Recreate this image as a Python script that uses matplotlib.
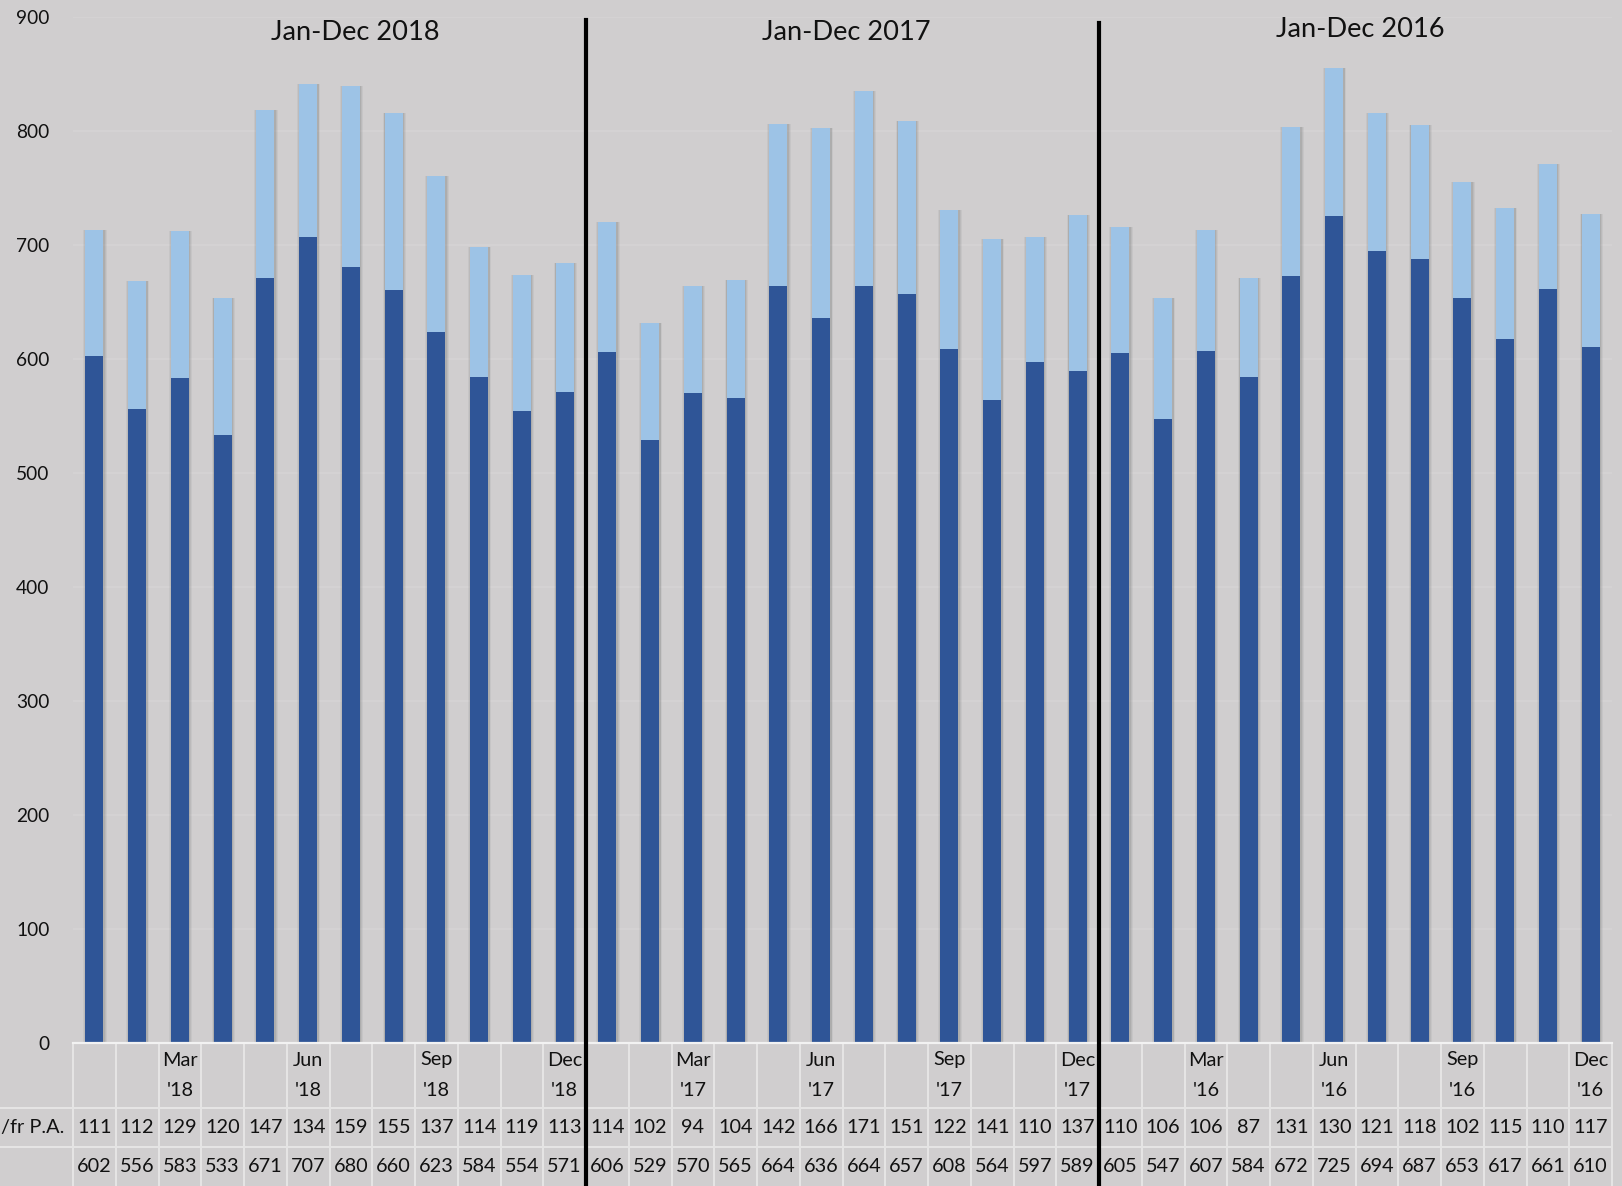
import matplotlib
matplotlib.use('Agg')
import matplotlib.pyplot as plt
from matplotlib.transforms import blended_transform_factory
from matplotlib.lines import Line2D

plt.rcParams['font.family'] = ['Lato', 'DejaVu Sans']

# ---------------- data ----------------
month_labels = ['', '', "Mar\n'18", '', '', "Jun\n'18", '', '', "Sep\n'18", '', '', "Dec\n'18",
                '', '', "Mar\n'17", '', '', "Jun\n'17", '', '', "Sep\n'17", '', '', "Dec\n'17",
                '', '', "Mar\n'16", '', '', "Jun\n'16", '', '', "Sep\n'16", '', '', "Dec\n'16"]
top_vals = [111, 112, 129, 120, 147, 134, 159, 155, 137, 114, 119, 113,
            114, 102, 94, 104, 142, 166, 171, 151, 122, 141, 110, 137,
            110, 106, 106, 87, 131, 130, 121, 118, 102, 115, 110, 117]
base_vals = [602, 556, 583, 533, 671, 707, 680, 660, 623, 584, 554, 571,
             606, 529, 570, 565, 664, 636, 664, 657, 608, 564, 597, 589,
             605, 547, 607, 584, 672, 725, 694, 687, 653, 617, 661, 610]
year_titles = ['Jan-Dec 2018', 'Jan-Dec 2017', 'Jan-Dec 2016']
row_labels = ['/fr P.A.', '']
yticks = [0, 100, 200, 300, 400, 500, 600, 700, 800, 900]

# ---------------- style ----------------
BG = '#D0CECF'
DARK = '#2F5597'
LIGHT = '#9DC3E6'
GRID = '#D5D3D4'
TLINE = '#E6E5E5'
FS = 14.3

W, H = 1622, 1186
fig = plt.figure(figsize=(W / 100, H / 100), dpi=100, facecolor=BG)
ax_left, ax_right = 73, 1612
ax_bottom, ax_top = 1042.7, 16.5
ax = fig.add_axes([ax_left / W, (H - ax_bottom) / H, (ax_right - ax_left) / W, (ax_bottom - ax_top) / H])
ax.set_facecolor(BG)

n = len(base_vals)
x = list(range(n))
bw = 0.42

# soft shadow
totals = [b + t for b, t in zip(base_vals, top_vals)]
for k, a in [(0.12, 0.07), (0.08, 0.09), (0.04, 0.12)]:
    ax.bar([xi + 0.015 for xi in x], totals, width=bw + k, color='#505050', alpha=a, linewidth=0, zorder=2)

ax.bar(x, base_vals, width=bw, color=DARK, linewidth=0, zorder=3)
ax.bar(x, top_vals, bottom=base_vals, width=bw, color=LIGHT, linewidth=0, zorder=3)

ax.set_xlim(-0.5, n - 0.5)
ax.set_ylim(0, 900)
ax.set_yticks(yticks)
ax.set_yticklabels([str(v) for v in yticks], fontsize=13.8, color='#111111')
ax.tick_params(axis='y', length=0, pad=17)
ax.tick_params(axis='x', length=0, labelbottom=False)
for y in yticks[1:]:
    ax.axhline(y, color=GRID, linewidth=1.2, zorder=1)
for s in ax.spines.values():
    s.set_visible(False)

# year titles
title_x = [6.1, 17.6, 29.6]
title_y = [886, 886, 889]
for g, title in enumerate(year_titles):
    ax.text(title_x[g], title_y[g], title, ha='center', va='center',
            fontsize=19.6, color='#111111', zorder=5)

# ---------------- data table ----------------
tr = blended_transform_factory(ax.transData, fig.transFigure)
fy = lambda py: (H - py) / H
tab_top, r1, r2, tab_bot = 1042.7, 1108, 1147, 1186

for i in range(n + 1):
    fig.add_artist(Line2D([i - 0.5, i - 0.5], [fy(tab_top), fy(tab_bot)], transform=tr,
                          color=TLINE, linewidth=1.4, zorder=1))
fig.add_artist(Line2D([ax_left / W, ax_right / W], [fy(tab_top), fy(tab_top)], transform=fig.transFigure,
                      color='#F2F2F2', linewidth=1.6, zorder=1))
for py in (r1, r2):
    fig.add_artist(Line2D([0, ax_right / W], [fy(py), fy(py)], transform=fig.transFigure,
                          color=TLINE, linewidth=1.4, zorder=1))

for i in range(n):
    if month_labels[i]:
        l1, l2 = month_labels[i].split('\n')
        fig.text(i, fy(1060), l1, transform=tr, ha='center', va='center', fontsize=FS, color='#111111')
        fig.text(i, fy(1090), l2, transform=tr, ha='center', va='center', fontsize=FS, color='#111111')
    fig.text(i, fy((r1 + r2) / 2), str(top_vals[i]), transform=tr, ha='center', va='center',
             fontsize=FS, color='#111111')
    fig.text(i, fy((r2 + tab_bot) / 2), str(base_vals[i]), transform=tr, ha='center', va='center',
             fontsize=FS, color='#111111')

fig.text(64 / W, fy((r1 + r2) / 2), row_labels[0], ha='right', va='center', fontsize=FS, color='#111111')
fig.text(64 / W, fy((r2 + tab_bot) / 2), row_labels[1], ha='right', va='center', fontsize=FS, color='#111111')

# year separators
for xs, top_py in ((11.5, 20), (23.5, 23)):
    fig.add_artist(Line2D([xs, xs], [0, fy(top_py)], transform=tr, color='black', linewidth=3, zorder=6))

fig.savefig('out.png', dpi=100, facecolor=BG)
